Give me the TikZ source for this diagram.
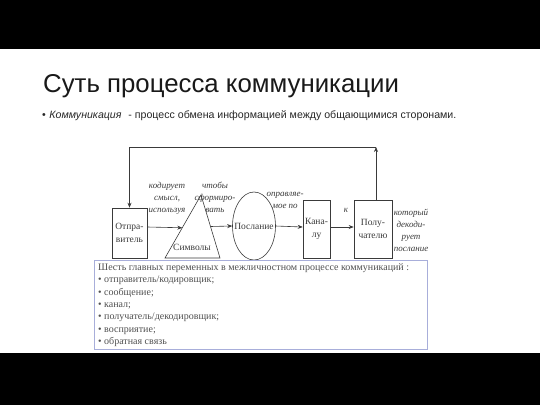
\documentclass[tikz,border=0pt]{standalone}
\usepackage{fontspec}
\setmainfont{Liberation Serif}
\newfontfamily\arialf{Liberation Sans}
\usetikzlibrary{arrows.meta,shapes.geometric,calc}
\definecolor{ln}{HTML}{3A3A3A}
\definecolor{boxedge}{HTML}{A8AEDA}
\definecolor{gtxt}{HTML}{505050}
\begin{document}
\begin{tikzpicture}[x=1pt,y=-1pt,
  arr/.style={draw=ln,line width=0.6pt,-{Stealth[length=5pt,width=4pt]}},
  blk/.style={draw=ln,line width=0.6pt,fill=white,inner sep=0pt,align=center,
    font=\fontsize{9.5}{12.5}\selectfont,text=ln},
  lbl/.style={align=center,inner sep=0pt,text=ln,
    font=\fontsize{9}{12}\selectfont\itshape},
  lst/.style={anchor=base west,inner sep=0pt,text=gtxt,font=\fontsize{10}{11}\selectfont}]
\useasboundingbox (0,0) rectangle (540,405);
\fill[black] (0,0) rectangle (540,49);
\fill[black] (0,353) rectangle (540,405);
% title
\node[anchor=base west,inner sep=0pt,text={black!90},font=\arialf\fontsize{25.8}{30}\selectfont] (title) at (43,92) {Суть процесса коммуникации};
\node[anchor=base west,inner sep=0pt,text={black!85},font=\arialf\fontsize{10.6}{12}\selectfont] (sub) at (42,118) {•\hspace{3.5pt}\textit{Коммуникация}\hspace{4pt} - процесс обмена информацией между общающимися сторонами.};
% diagram
\node[blk,minimum width=35pt,minimum height=50pt] (otp) at (129.5,233) {Отпра-\\витель};
\coordinate (tA) at (201,195);
\coordinate (tL) at (165,258);
\coordinate (tR) at (220,258);
\draw[ln,line width=0.6pt] (tA) -- (tL) -- (tR) -- cycle;
\node[inner sep=0pt,text=ln,font=\fontsize{9.5}{12}\selectfont] (sym) at (192,247) {Символы};
\node[draw=ln,line width=0.6pt,ellipse,minimum width=43pt,minimum height=68pt,inner sep=0pt] (msg) at (254,226) {};
\node[inner sep=0pt,text=ln,font=\fontsize{9.5}{12}\selectfont] (msgt) at (msg.center) {Послание};
\node[blk,minimum width=27pt,minimum height=58pt] (kan) at (316.5,229) {Кана-\\лу};
\node[blk,minimum width=38pt,minimum height=58pt] (pol) at (373,229) {Полу-\\чателю};
\draw[arr] (otp.east |- 0,227) -- ($(tA)!0.52!(tL)$);
\draw[arr] ($(tA)!0.5!(tR)$) -- (msg.west);
\draw[arr] (msg.east) -- (kan.west |- 0,227);
\draw[arr] (kan.east |- 0,227) -- (pol.west |- 0,227);
\coordinate (fbR) at (376,147);
\draw[arr] (pol.north -| fbR) -- (fbR);
\draw[arr] (fbR) -| (otp.north);
% labels
\node[lbl] (l1) at (167,198) {кодирует\\смысл,\\используя};
\node[lbl] (l2) at (215,197) {чтобы\\сформиро-\\вать};
\node[lbl] (l3) at (285,200) {оправляе-\\мое по};
\node[lbl] (l4) at (346,210) {к};
\node[lbl] (l5) at (411,230) {который\\декоди-\\рует\\послание};
% text box
\draw[draw=boxedge,fill=white,line width=0.8pt] (94,260) rectangle (427,349);
\node[lst] (t0) at (98,270) {Шесть главных переменных в межличностном процессе коммуникаций :};
\node[lst] (t1) at (98,282) {• отправитель/кодировщик;};
\node[lst] (t2) at (98,295) {• сообщение;};
\node[lst] (t3) at (98,307) {• канал;};
\node[lst] (t4) at (98,319) {• получатель/декодировщик;};
\node[lst] (t5) at (98,332) {• восприятие;};
\node[lst] (t6) at (98,344) {• обратная связь};
\end{tikzpicture}
\end{document}
